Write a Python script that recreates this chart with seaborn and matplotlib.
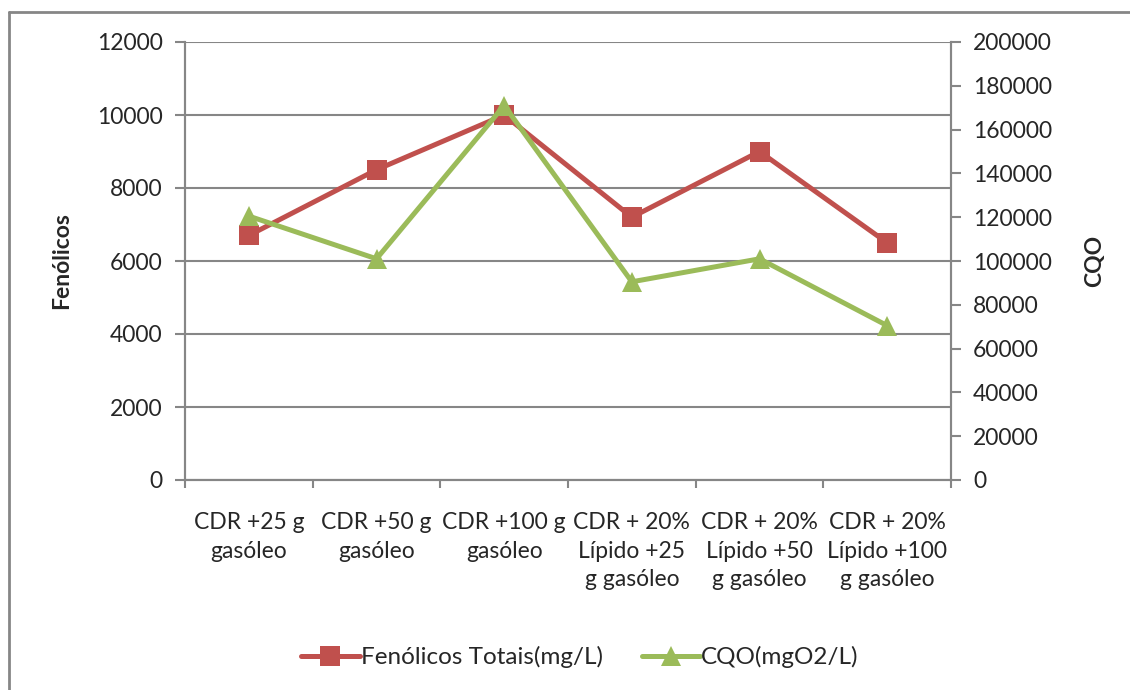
import matplotlib
matplotlib.use("Agg")
import matplotlib.pyplot as plt
from matplotlib.lines import Line2D
import seaborn as sns
import pandas as pd
import numpy as np

categories = [
    "CDR +25 g\ngasóleo",
    "CDR +50 g\ngasóleo",
    "CDR +100 g\ngasóleo",
    "CDR + 20%\nLípido +25\ng gasóleo",
    "CDR + 20%\nLípido +50\ng gasóleo",
    "CDR + 20%\nLípido +100\ng gasóleo",
]
fenolicos = [6700, 8500, 10000, 7200, 9000, 6500]
cqo = [120500, 101000, 171000, 90500, 101000, 70500]

red = "#C0504D"
green = "#9BBB59"
gray = "#868686"

sns.set_theme(style="white")
plt.rcParams["font.family"] = ["Lato", "DejaVu Sans"]
FS = 16.5

fig = plt.figure(figsize=(11.3, 6.9), dpi=100)
ax = fig.add_axes([185 / 1130, 1 - 480 / 690, (951 - 185) / 1130, (480 - 42) / 690])
ax2 = ax.twinx()

x = np.arange(len(categories))
df = pd.DataFrame({"x": x, "fen": fenolicos, "cqo": cqo})

sns.lineplot(data=df, x="x", y="fen", ax=ax, color=red, lw=3.6, marker="s",
             markersize=14, markeredgewidth=0, sort=False, zorder=3)
sns.lineplot(data=df, x="x", y="cqo", ax=ax2, color=green, lw=3.6, marker="^",
             markersize=15, markeredgewidth=0, sort=False, zorder=4)

ax.set_xlim(-0.5, len(categories) - 0.5)
ax.set_ylim(0, 12000)
ax2.set_ylim(0, 200000)
ax.set_yticks(np.arange(0, 12001, 2000))
ax2.set_yticks(np.arange(0, 200001, 20000))

# boundaries ticks (major) and labels at centers (minor)
ax.set_xticks(np.arange(-0.5, len(categories), 1.0))
ax.set_xticklabels([])
ax.set_xticks(x, minor=True)
ax.set_xticklabels(categories, minor=True, fontsize=FS, linespacing=1.45)
ax.tick_params(axis="x", which="major", length=6, width=1.5, color=gray, direction="out", bottom=True)
ax.tick_params(axis="x", which="minor", length=0, pad=23, bottom=True)

ax.tick_params(axis="y", length=7, width=1.5, color=gray, direction="out", left=True,
               labelsize=FS, pad=9)
ax2.tick_params(axis="y", length=7, width=1.5, color=gray, direction="out", right=True,
                labelsize=FS, pad=9)

ax.yaxis.grid(True, color=gray, lw=1.5)
ax.xaxis.grid(False)
ax2.grid(False)
ax.set_axisbelow(True)

for a in (ax, ax2):
    a.spines["top"].set_visible(False)
    for s in ("left", "right", "bottom"):
        a.spines[s].set_color(gray)
        a.spines[s].set_linewidth(1.5)
    a.set_xlabel("")

ax.set_ylabel("Fenólicos", fontsize=FS, fontweight="bold", labelpad=18)
ax2.set_ylabel("CQO", fontsize=FS, fontweight="bold", labelpad=23)

handles = [
    Line2D([0], [0], color=red, lw=3.6, marker="s", markersize=14, markeredgewidth=0),
    Line2D([0], [0], color=green, lw=3.6, marker="^", markersize=15, markeredgewidth=0),
]
fig.legend(handles, ["Fenólicos Totais(mg/L)", "CQO(mgO2/L)"], loc="center",
           bbox_to_anchor=(580 / 1130, 1 - 657 / 690), ncol=2, frameon=False,
           fontsize=17.5, handlelength=2.4, handletextpad=0.05, columnspacing=1.6)

# chart border (left and top visible)
fig.add_artist(Line2D([9 / 1130, 9 / 1130], [0, 1 - 12 / 690], transform=fig.transFigure,
                      color=gray, lw=2))
fig.add_artist(Line2D([9 / 1130, 1], [1 - 12 / 690, 1 - 12 / 690], transform=fig.transFigure,
                      color=gray, lw=2))

fig.savefig("out.png", dpi=100)
